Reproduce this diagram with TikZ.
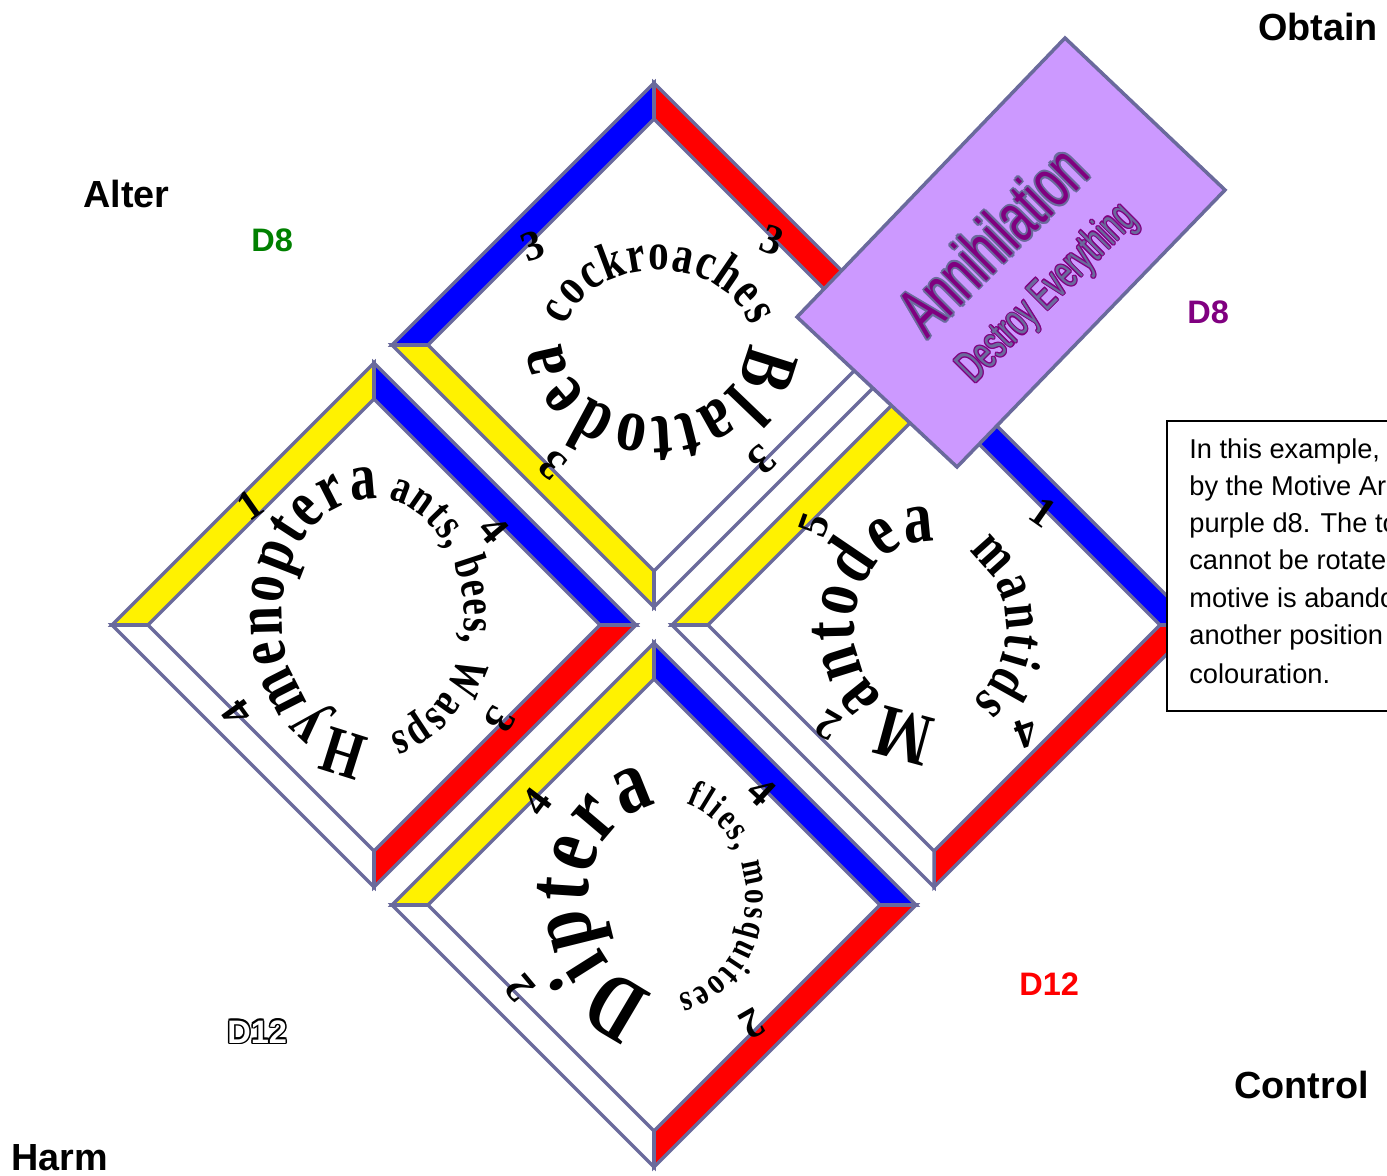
\documentclass[tikz,border=0pt]{standalone}
\usepackage{fontspec}
\setmainfont{Liberation Serif}
\newfontfamily\labelfont{Liberation Sans}
\newfontfamily\ringfont{Liberation Serif}[FakeStretch=0.78]
\usetikzlibrary{decorations.text}

\definecolor{rimc}{HTML}{6A6A9C}
\definecolor{lav}{HTML}{CC99FF}
\definecolor{plum}{HTML}{800080}
\definecolor{leaf}{HTML}{008000}

% one bordered tile: centre, then band colours NW, NE, SE, SW
\newcommand\gemtile[6]{%
  \begin{scope}[shift={(#1,#2)}]
    \filldraw[rim, fill=#3] (-262,0) -- (0,-262) -- (0,-226) -- (-226,0) -- cycle;
    \filldraw[rim, fill=#4] (0,-262) -- (262,0) -- (226,0) -- (0,-226) -- cycle;
    \filldraw[rim, fill=#5] (262,0) -- (0,262) -- (0,226) -- (226,0) -- cycle;
    \filldraw[rim, fill=#6] (0,262) -- (-262,0) -- (-226,0) -- (0,226) -- cycle;
  \end{scope}}

% text set along an elliptic arc: cx, cy, rx, ry, start, end, size, text
\newcommand\ringtext[8]{%
  \path[decorate, decoration={text along path, text align={fit to path},
      text={|\ringfont\bfseries\fontsize{#7}{#7}\selectfont|#8}}]
    ([shift={(#1,#2)}]#5:#3 and #4) arc[start angle=#5, end angle=#6, x radius=#3, y radius=#4];}

\begin{document}
\begin{tikzpicture}[x=0.02cm, y=-0.02cm,
  rim/.style={draw=rimc, line width=2pt, line join=miter},
  numlbl/.style={font=\bfseries\fontsize{24}{24}\selectfont, inner sep=0},
  cornerlbl/.style={font=\labelfont\bfseries\fontsize{21.5}{21.5}\selectfont, inner sep=0, anchor=base west},
  dielbl/.style={font=\labelfont\bfseries\fontsize{18.5}{18.5}\selectfont, inner sep=0, anchor=base west},
  noteline/.style={font=\labelfont\fontsize{15.5}{15.5}\selectfont, inner sep=0, anchor=base west},
  motive/.style={inner sep=0, rotate=45},
]
\useasboundingbox (0,0) rectangle (1387,1176);
\clip (0,0) rectangle (1387,1176);

% the four tiles
\gemtile{654}{345}{blue}{red}{white}{yellow}
\gemtile{374}{625}{yellow}{blue}{red}{white}
\gemtile{934}{625}{yellow}{blue}{red}{white}
\gemtile{654}{905}{yellow}{blue}{red}{white}

% ring texts
\ringtext{658}{345}{95}{75}{195}{345}{30}{cockroaches}
\ringtext{655}{345}{92}{72}{-2}{182}{44}{Blattodea}
\ringtext{370}{617}{88}{118}{90}{275}{38.5}{Hymenoptera}
\ringtext{370}{617}{94}{120}{281}{438}{27}{ants, bees, Wasps}
\ringtext{926}{628}{72}{86}{81}{277}{42.5}{Mantodea}
\ringtext{926}{628}{80}{90}{302}{414}{33}{mantids}
\ringtext{664}{898}{76}{93}{97}{265}{51.6}{Diptera}
\ringtext{664}{898}{82}{98}{286}{440}{21.5}{flies, mosquitoes}

% small numbers round each ring
\node[numlbl, rotate=20]   (t1) at (533,246) {3};
\node[numlbl, rotate=-20]  (t2) at (772,240) {3};
\node[numlbl, rotate=140]  (t3) at (553,465) {3};
\node[numlbl, rotate=-137] (t4) at (762,460) {3};
\node[numlbl, rotate=35]   (l1) at (250,505) {1};
\node[numlbl, rotate=-50]  (l2) at (494,530) {4};
\node[numlbl, rotate=126]  (l3) at (237,713) {4};
\node[numlbl, rotate=-120] (l4) at (500,720) {3};
\node[numlbl, rotate=70]   (r1) at (814,525) {5};
\node[numlbl, rotate=-35]  (r2) at (1043,512) {1};
\node[numlbl, rotate=150]  (r3) at (828,725) {2};
\node[numlbl, rotate=-160] (r4) at (1026,733) {4};
\node[numlbl, rotate=53]   (b1) at (537,802) {4};
\node[numlbl, rotate=-43]  (b2) at (762,792) {4};
\node[numlbl, rotate=130]  (b3) at (520,988) {2};
\node[numlbl, rotate=-150] (b4) at (752,1024) {2};

% motive card
\filldraw[rim, fill=lav] (1065,38) -- (1225,190) -- (957,467) -- (797,317) -- cycle;
\foreach \dx/\dy [count=\k] in {-2/0,2/0,0/-2,0/2,-1.4/-1.4,1.4/-1.4,-1.4/1.4,1.4/1.4}{
  \node[motive, text=rimc] (ah\k) at ([shift={(\dx,\dy)}]992,240)
    {\labelfont\fontsize{40}{40}\selectfont\scalebox{0.64}[1]{Annihilation}};
  \node[motive, text=plum] (dh\k) at ([shift={(0.6*\dx,0.6*\dy)}]1048,294)
    {\labelfont\fontsize{26}{26}\selectfont\scalebox{0.6}[1]{Destroy Everything}};
}
\node[motive, text=plum] (ann) at (992,240)
  {\labelfont\fontsize{40}{40}\selectfont\scalebox{0.64}[1]{Annihilation}};
\node[motive, text=rimc] (des) at (1048,294)
  {\labelfont\fontsize{26}{26}\selectfont\scalebox{0.6}[1]{Destroy Everything}};

% note box
\draw[line width=1.1pt, fill=white] (1167,421) rectangle (1420,711);
\foreach \t/\yb [count=\i] in {{In this example,}/458, {by the Motive Ar}/495,
    {purple d8. The to}/532, {cannot be rotated}/569, {motive is abando}/607,
    {another position}/644, {colouration.}/683}
  \node[noteline] (note\i) at (1189,\yb) {\t};

% corner words and dice
\node[cornerlbl] (obtain)  at (1258,41)   {Obtain};
\node[cornerlbl] (alter)   at (83,208)    {Alter};
\node[cornerlbl] (control) at (1234,1098) {Control};
\node[cornerlbl] (harm)    at (11,1170)   {Harm};
\node[dielbl, text=leaf] (dgreen)  at (251,252)  {D8};
\node[dielbl, text=plum] (dpurple) at (1187,323) {D8};
\node[dielbl, text=red]  (dred)    at (1019,995) {D12};
\foreach \dx/\dy [count=\k] in {-1.5/0,1.5/0,0/-1.5,0/1.5,-1.1/-1.1,1.1/-1.1,-1.1/1.1,1.1/1.1}
  \node[dielbl, text=black] (dw\k) at ([shift={(\dx,\dy)}]227,1043) {D12};
\node[dielbl, text=white] (dwhite) at (227,1043) {D12};
\end{tikzpicture}
\end{document}
